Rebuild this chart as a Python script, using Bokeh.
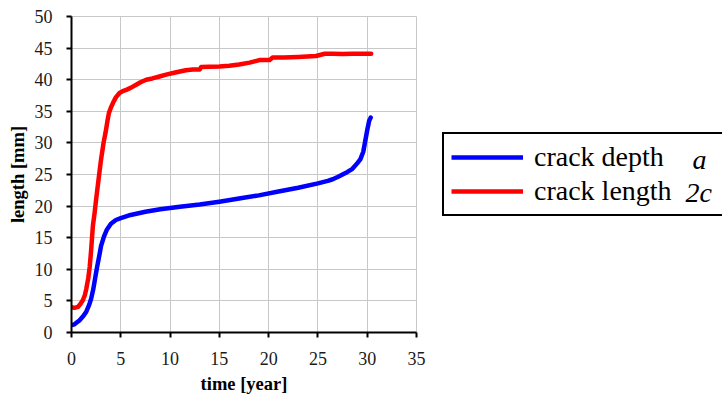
from bokeh.plotting import figure
from bokeh.models import Range1d, Legend, LegendItem, Label, FixedTicker
from bokeh.layouts import row
from bokeh.embed import file_html
from bokeh.resources import INLINE

# ---- data ----
time_a = [0, 0.3, 0.8, 1.2, 1.5, 1.8, 2.0, 2.2, 2.4, 2.6,
          2.8, 3.0, 3.3, 3.6, 4.0, 4.5, 5.0, 6.0, 7.5, 9.0,
          11.0, 13.0, 15.0, 17.0, 19.0, 21.0, 23.0, 25.0, 26.0, 26.5,
          27.0, 27.5, 28.0, 28.5, 29.0, 29.3, 29.6, 29.8, 30.0, 30.2,
          30.35]
depth_a = [1.15, 1.3, 1.9, 2.6, 3.3, 4.4, 5.4, 6.8, 8.6, 10.4,
           12.0, 13.7, 15.2, 16.3, 17.2, 17.8, 18.1, 18.6, 19.1, 19.5,
           19.9, 20.25, 20.7, 21.2, 21.7, 22.3, 22.9, 23.6, 24.0, 24.25,
           24.6, 25.0, 25.4, 25.9, 26.8, 27.4, 28.6, 30.3, 32.0, 33.5,
           34.0]

time_c = [0, 0.3, 0.65, 0.9, 1.15, 1.35, 1.5, 1.7, 1.85, 2.0,
          2.17, 2.35, 2.5, 2.75, 3.0, 3.25, 3.45, 3.65, 3.8, 4.0,
          4.2, 4.5, 4.87, 5.2, 5.55, 6.0, 6.56, 7.0, 7.58, 8.2,
          8.93, 9.6, 10.3, 11.0, 11.6, 12.3, 13.0, 13.15, 14.0, 15.0,
          16.0, 17.0, 18.06, 19.07, 20.1, 20.4, 21.5, 23.0, 24.8, 25.7,
          26.5, 27.5, 28.5, 29.5, 30.4]
length_2c = [4.0, 3.9, 4.05, 4.5, 5.1, 5.9, 6.9, 8.6, 10.4, 13.2,
             16.9, 19.0, 21.1, 24.3, 27.4, 30.0, 31.6, 33.5, 34.75, 35.6,
             36.3, 37.2, 37.9, 38.2, 38.4, 38.7, 39.2, 39.6, 40.0, 40.2,
             40.5, 40.8, 41.05, 41.3, 41.5, 41.6, 41.6, 42.0, 42.05, 42.1,
             42.2, 42.4, 42.7, 43.1, 43.1, 43.5, 43.5, 43.6, 43.75, 44.1,
             44.1, 44.05, 44.1, 44.1, 44.1]

x_ticks = [0, 5, 10, 15, 20, 25, 30, 35]
y_ticks = [0, 5, 10, 15, 20, 25, 30, 35, 40, 45, 50]

series_labels = ["crack depth", "crack length"]
series_symbols = ["a", "2c"]
series_colors = ["#0000ff", "#ff0000"]

FONT_BOLD = "Liberation Serif"
FONT = "Times New Roman"

H = 396
TOP = 16
BOT = 333  # frame bottom, figure px

p = figure(width=430, height=H, output_backend="svg", toolbar_location=None,
           x_range=Range1d(0, 35), y_range=Range1d(0, 50),
           min_border_left=71, min_border_right=14,
           min_border_top=TOP, min_border_bottom=H - BOT)
p.background_fill_color = "white"
p.border_fill_color = "white"
p.outline_line_color = "#c8c8c8"
p.outline_line_width = 1

p.xaxis.ticker = FixedTicker(ticks=x_ticks)
p.yaxis.ticker = FixedTicker(ticks=y_ticks)
for ax in (p.xaxis[0], p.yaxis[0]):
    ax.axis_line_color = "black"
    ax.axis_line_width = 2
    ax.major_tick_line_color = "black"
    ax.major_tick_line_width = 2
    ax.major_tick_out = 5
    ax.major_tick_in = 0
    ax.minor_tick_line_color = None
    ax.major_label_text_font = FONT
    ax.major_label_text_font_size = "18px"
    ax.major_label_text_color = "#1a1a1a"
    ax.axis_label_text_font = FONT_BOLD
    ax.axis_label_text_font_style = "bold"
    ax.axis_label_text_font_size = "18.5px"
    ax.axis_label_text_color = "black"

p.xaxis.axis_label = "time [year]"
p.yaxis.axis_label = "length [mm]"
p.xaxis.major_label_standoff = 14
p.yaxis.major_label_standoff = 14
p.xaxis.axis_label_standoff = 6
p.yaxis.axis_label_standoff = 4

p.xgrid.ticker = FixedTicker(ticks=x_ticks)
p.ygrid.ticker = FixedTicker(ticks=y_ticks)
for g in (p.xgrid[0], p.ygrid[0]):
    g.grid_line_color = "#c8c8c8"
    g.grid_line_width = 1

p.line(time_a, depth_a, line_color=series_colors[0], line_width=4.5,
       line_cap="round", line_join="round")
p.line(time_c, length_2c, line_color=series_colors[1], line_width=4.5,
       line_cap="round", line_join="round")

# ---- legend panel (separate figure; frame aligned with the plot's frame,
#      data units equal figure pixels) ----
W2 = 292
q = figure(width=W2, height=H, output_backend="svg", toolbar_location=None,
           x_range=Range1d(0, W2), y_range=Range1d(BOT, TOP),
           min_border_left=0, min_border_right=0,
           min_border_top=TOP, min_border_bottom=H - BOT,
           x_axis_type=None, y_axis_type=None)
q.xgrid.visible = False
q.ygrid.visible = False
q.outline_line_color = None
q.background_fill_color = "white"
q.border_fill_color = "white"

nan = float("nan")
leg_r = [q.line([nan], [nan], line_color=c, line_width=4.5) for c in series_colors]

legend = Legend(items=[LegendItem(label=lab, renderers=[r])
                       for lab, r in zip(series_labels, leg_r)],
                location=(12, BOT - 217))
legend.label_text_font = FONT
legend.label_text_font_size = "28px"
legend.label_text_color = "black"
legend.glyph_width = 72
legend.glyph_height = 30
legend.label_height = 30
legend.label_width = 182
legend.label_standoff = 11
legend.padding = 7
legend.spacing = 2
legend.margin = 0
legend.border_line_color = "black"
legend.border_line_width = 2
legend.border_line_alpha = 1
legend.background_fill_alpha = 0
q.add_layout(legend, "center")

for sym, lx, ly in zip(series_symbols, [262, 255], [159, 193]):
    q.add_layout(Label(x=lx, y=ly, text=sym, text_font=FONT, text_font_size="28px",
                       text_font_style="italic", text_color="black",
                       text_baseline="middle", text_align="left"))

open("out.html", "w").write(file_html(row(p, q, spacing=0), INLINE))
